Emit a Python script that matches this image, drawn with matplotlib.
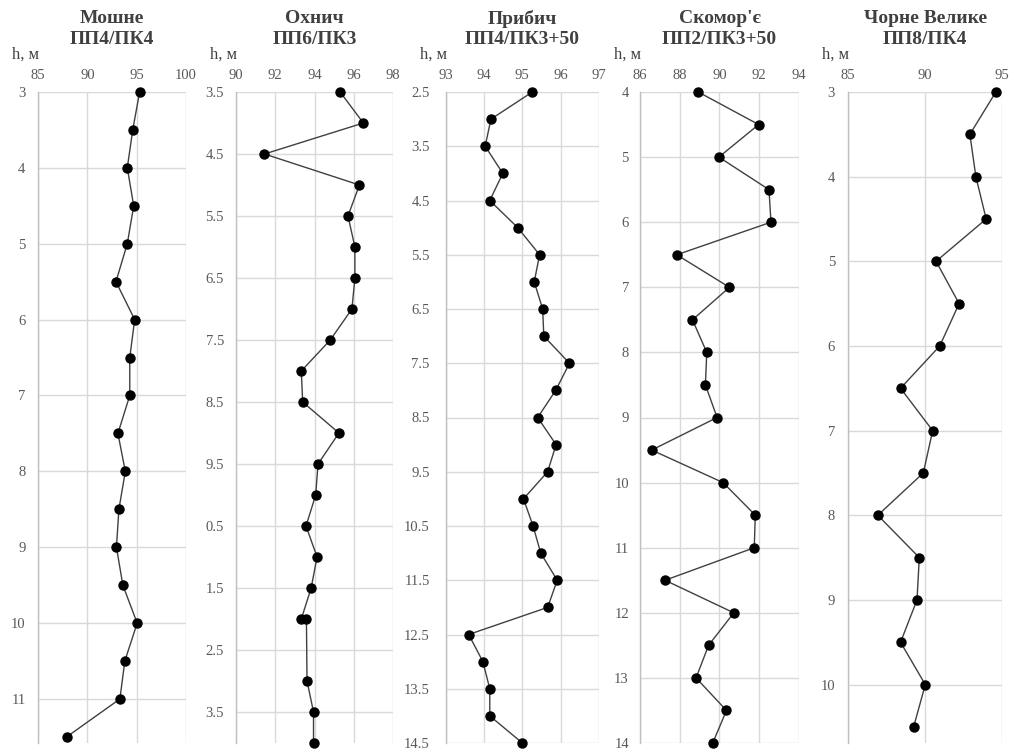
import matplotlib
matplotlib.use("Agg")
import matplotlib.pyplot as plt

plt.rcParams['font.family'] = ['Liberation Serif', 'DejaVu Serif']

# --- data: depth h (м) and elevation per profile ---
titles = ["Мошне\nПП4/ПК4", "Охнич\nПП6/ПК3", "Прибич\nПП4/ПК3+50",
          "Скомор'є\nПП2/ПК3+50", "Чорне Велике\nПП8/ПК4"]

h_moshne = [3, 3.5, 4, 4.5, 5, 5.5, 6, 6.5, 7, 7.5, 8, 8.5, 9, 9.5, 10, 10.5, 11, 11.5]
z_moshne = [95.3, 94.6, 94.05, 94.7, 94.05, 92.9, 94.8, 94.3, 94.3, 93.1, 93.85,
            93.2, 92.95, 93.6, 95.05, 93.8, 93.3, 87.9]

h_okhnych = [3.5, 4, 4.5, 5, 5.5, 6, 6.5, 7, 7.5, 8, 8.5, 9, 9.5, 10, 10.5, 11,
             11.5, 12, 12, 13, 13.5, 14]
z_okhnych = [95.3, 96.48, 91.46, 96.28, 95.7, 96.05, 96.05, 95.9, 94.8, 93.33,
             93.4, 95.24, 94.18, 94.06, 93.57, 94.13, 93.83, 93.33, 93.59, 93.62,
             93.95, 93.95]

h_prybych = [2.5, 3, 3.5, 4, 4.5, 5, 5.5, 6, 6.5, 7, 7.5, 8, 8.5, 9, 9.5, 10,
             10.5, 11, 11.5, 12, 12.5, 13, 13.5, 14, 14.5]
z_prybych = [95.26, 94.18, 94.03, 94.49, 94.15, 94.88, 95.45, 95.31, 95.53, 95.56,
             96.23, 95.87, 95.4, 95.88, 95.66, 95.03, 95.28, 95.48, 95.91, 95.66,
             93.6, 93.97, 94.15, 94.15, 95.0]

h_skomor = [4, 4.5, 5, 5.5, 6, 6.5, 7, 7.5, 8, 8.5, 9, 9.5, 10, 10.5, 11, 11.5,
            12, 12.5, 13, 13.5, 14]
z_skomor = [88.93, 91.97, 89.97, 92.49, 92.59, 87.85, 90.5, 88.64, 89.36, 89.29,
            89.88, 86.59, 90.18, 91.8, 91.75, 87.26, 90.72, 89.45, 88.82, 90.35, 89.66]

h_chorne = [3, 3.5, 4, 4.5, 5, 5.5, 6, 6.5, 7, 7.5, 8, 8.5, 9, 9.5, 10, 10.5]
z_chorne = [94.6, 92.91, 93.3, 93.97, 90.71, 92.21, 90.95, 88.4, 90.49, 89.88,
            86.92, 89.62, 89.47, 88.4, 90.01, 89.25]

depths = [h_moshne, h_okhnych, h_prybych, h_skomor, h_chorne]
values = [z_moshne, z_okhnych, z_prybych, z_skomor, z_chorne]

x_ticks = [[85, 90, 95, 100], [90, 92, 94, 96, 98], [93, 94, 95, 96, 97],
           [86, 88, 90, 92, 94], [85, 90, 95]]
y_ticks = [[3, 4, 5, 6, 7, 8, 9, 10, 11],
           [3.5, 4.5, 5.5, 6.5, 7.5, 8.5, 9.5, 10.5, 11.5, 12.5, 13.5],
           [2.5, 3.5, 4.5, 5.5, 6.5, 7.5, 8.5, 9.5, 10.5, 11.5, 12.5, 13.5, 14.5],
           [4, 5, 6, 7, 8, 9, 10, 11, 12, 13, 14],
           [3, 4, 5, 6, 7, 8, 9, 10]]
y_labels = [["3", "4", "5", "6", "7", "8", "9", "10", "11"],
            ["3.5", "4.5", "5.5", "6.5", "7.5", "8.5", "9.5", "0.5", "1.5", "2.5", "3.5"],
            ["2.5", "3.5", "4.5", "5.5", "6.5", "7.5", "8.5", "9.5", "10.5", "11.5",
             "12.5", "13.5", "14.5"],
            ["4", "5", "6", "7", "8", "9", "10", "11", "12", "13", "14"],
            ["3", "4", "5", "6", "7", "8", "9", "10"]]
y_bottom = [11.58, 14.0, 14.5, 14.0, 10.69]

# layout in pixels (figure 1011 x 751)
W, H = 1011, 751
lefts = [38, 235.7, 445.7, 640, 848.3]
rights = [186, 393.3, 599, 799, 1002]
top_px, bot_px = 92, 743
ypads = [9, 8.5, 11.5, 8, 9.5]

fig = plt.figure(figsize=(W / 100, H / 100), dpi=100)

for i in range(5):
    ax = fig.add_axes([lefts[i] / W, 1 - bot_px / H,
                       (rights[i] - lefts[i]) / W, (bot_px - top_px) / H])
    ax.plot(values[i], depths[i], color='#404040', lw=1.0, marker='o',
            markersize=6.5, markerfacecolor='black', markeredgecolor='black',
            clip_on=False, zorder=3)
    ax.set_xlim(x_ticks[i][0], x_ticks[i][-1])
    ax.set_ylim(y_bottom[i], y_ticks[i][0])
    ax.set_xticks(x_ticks[i])
    ax.set_yticks(y_ticks[i])
    ax.set_yticklabels(y_labels[i])
    ax.xaxis.tick_top()
    ax.tick_params(axis='x', length=0, pad=7, labelsize=10.5, labelcolor='#595959')
    ax.tick_params(axis='y', length=0, pad=ypads[i], labelsize=10.5, labelcolor='#595959')
    ax.grid(True, color='#d9d9d9', lw=1.0)
    ax.set_axisbelow(True)
    for s in ['top', 'right', 'bottom']:
        ax.spines[s].set_visible(False)
    ax.spines['left'].set_color('#bfbfbf')
    ax.spines['left'].set_linewidth(1.0)

    cx = (lefts[i] + rights[i]) / 2 / W
    fig.text(cx, 1 - 29 / H, titles[i], ha='center', va='center',
             fontsize=14, fontweight='bold', color='#404040', linespacing=1.25)
    fig.text((lefts[i] + 1) / W, 1 - 55 / H, "h, м", ha='right', va='center',
             fontsize=12, color='#404040')

fig.savefig("out.png", dpi=100)
